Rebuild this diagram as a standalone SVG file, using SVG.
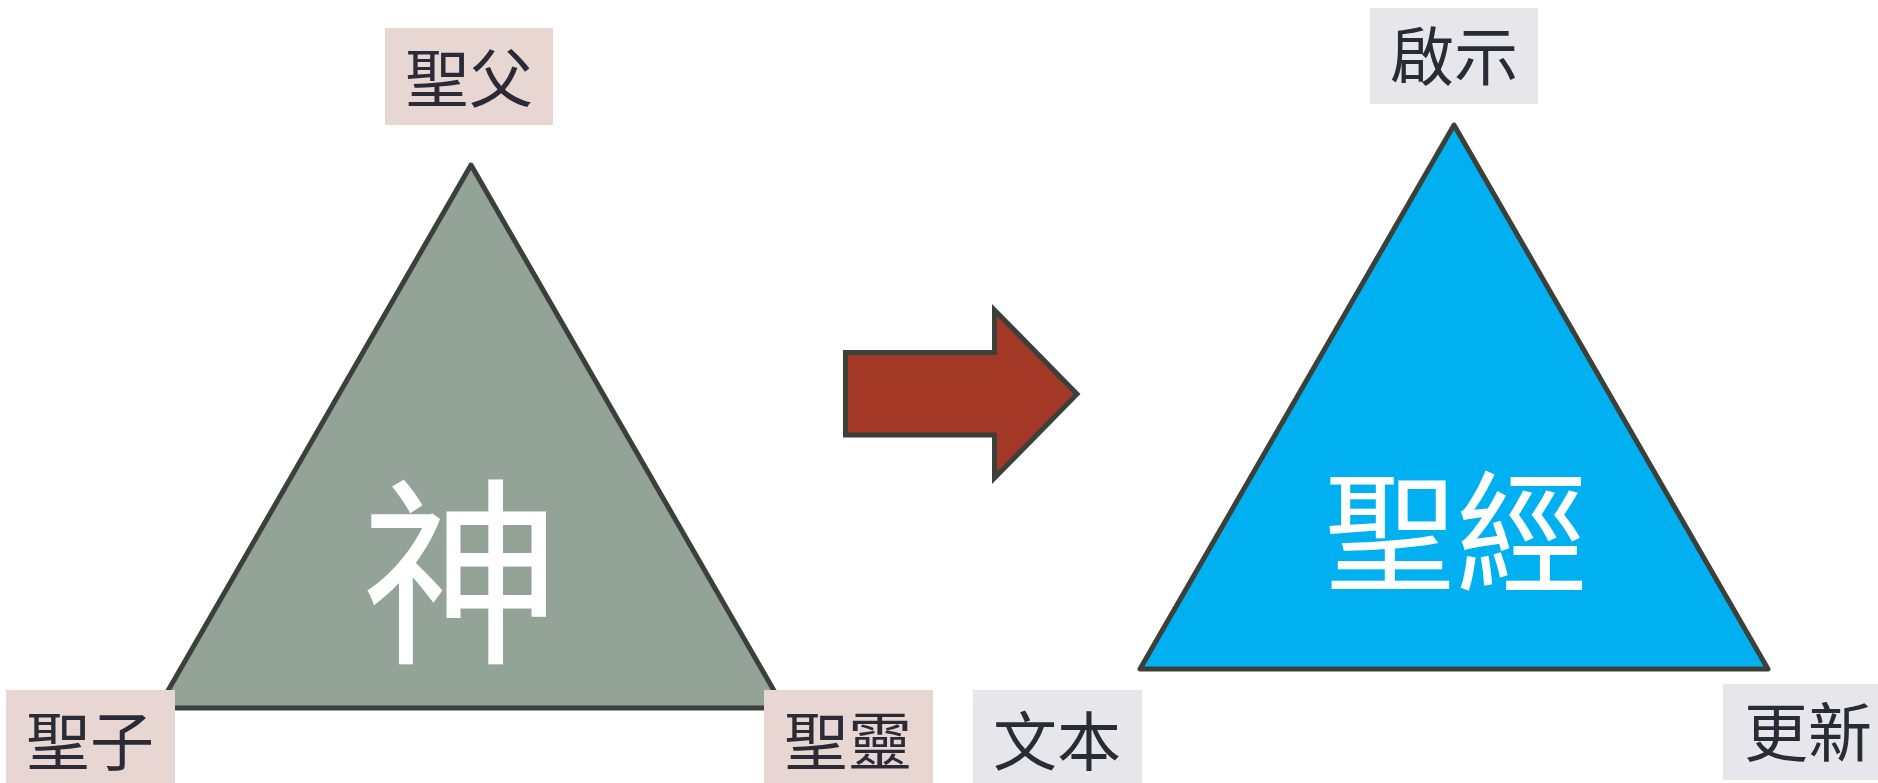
<svg xmlns="http://www.w3.org/2000/svg" width="1878" height="783" viewBox="0 0 1878 783">
<style>
.lbl{font-family:"Noto Sans CJK TC","Noto Sans CJK SC",sans-serif;font-size:64px;fill:#2B2B38;text-anchor:middle}
.pink{fill:#E8D6D2}
.gray{fill:#E7E7EB}
.tri{stroke:#3B403B;stroke-width:5;stroke-linejoin:round}
.big{font-family:"Noto Sans CJK TC","Noto Sans CJK SC",sans-serif;fill:#FFFFFF;text-anchor:middle}
</style>
<rect width="1878" height="783" fill="#FFFFFF"/>
<g id="god">
<polygon class="tri" points="471,165 784,708 158,708" fill="#93A398"/>
<text class="big" x="461" y="648" font-size="200">神</text>
</g>
<g id="bible">
<polygon class="tri" points="1454,125 1768,669 1140,669" fill="#00B0F0"/>
<text class="big" x="1456" y="582" font-size="132">聖經</text>
</g>
<g id="father">
<rect class="pink" x="385" y="28" width="168" height="97"/>
<text class="lbl" x="469" y="102">聖父</text>
</g>
<g id="son">
<rect class="pink" x="6" y="690" width="169" height="93"/>
<text class="lbl" x="90" y="765">聖子</text>
</g>
<g id="spirit">
<rect class="pink" x="764" y="690" width="169" height="93"/>
<text class="lbl" x="848" y="765">聖靈</text>
</g>
<g id="revelation">
<rect class="gray" x="1370" y="8" width="168" height="96"/>
<text class="lbl" x="1454" y="80">啟示</text>
</g>
<g id="text">
<rect class="gray" x="973" y="690" width="169" height="93"/>
<text class="lbl" x="1057" y="765">文本</text>
</g>
<g id="renewal">
<rect class="gray" x="1723" y="684" width="168" height="96"/>
<text class="lbl" x="1808" y="756">更新</text>
</g>
<g id="connectors">
<polygon points="845.5,352.5 994.5,352.5 994.5,310 1077,394 994.5,478 994.5,435 845.5,435" fill="#A33826" stroke="#3B403B" stroke-width="5"/>
</g>
</svg>
